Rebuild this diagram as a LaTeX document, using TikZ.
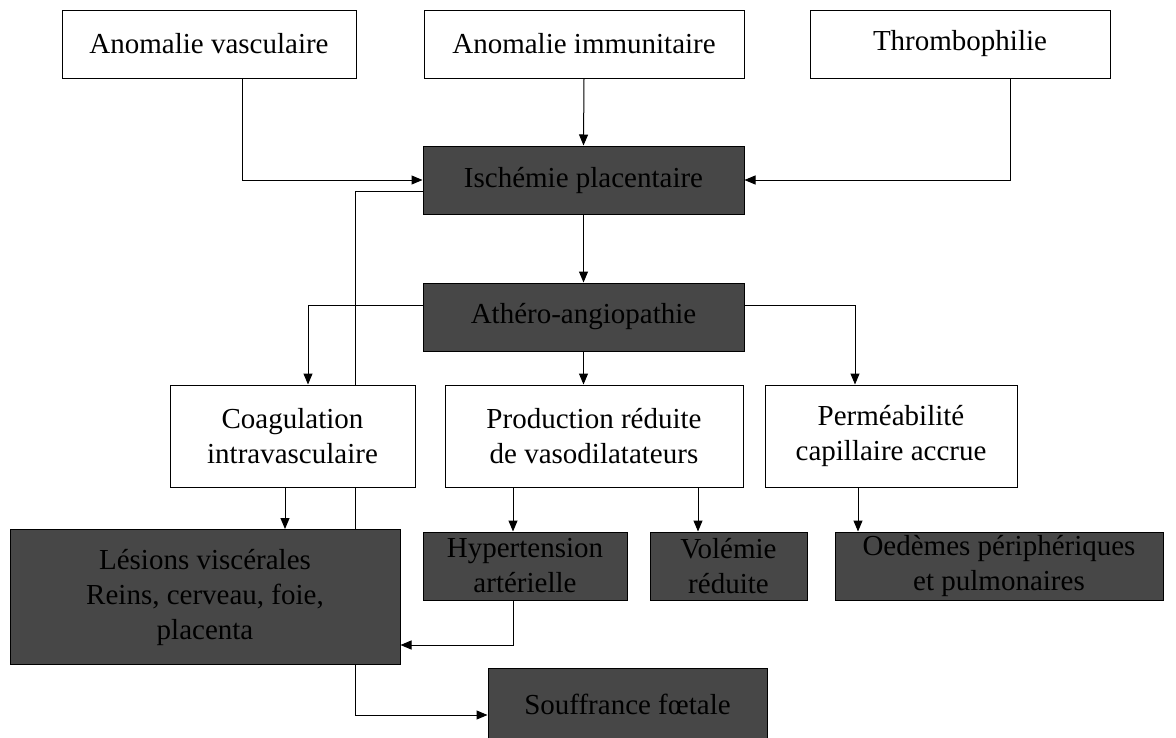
\documentclass[tikz,border=0pt]{standalone}
\usepackage{fontspec}
\setmainfont{Liberation Serif}
\usetikzlibrary{arrows.meta}
\begin{document}
\begin{tikzpicture}[x=1pt,y=-1pt,
  every node/.style={font=\fontsize{29}{35}\selectfont, align=center, inner sep=0pt},
  lightbox/.style={draw=black, line width=1pt, fill=white},
  darkbox/.style={draw=black, line width=1pt, fill=black!72, text=black},
  conn/.style={line width=1pt},
  arr/.style={conn, -{Triangle[length=11pt,width=9pt]}}]
\useasboundingbox (0,0) rectangle (1176,737);
% feedback line (behind boxes)
\coordinate (fbTop) at (355,191);
\coordinate (fbBot) at (355,530);
\draw[conn] (fbBot) -- (fbTop) -- (423,191);
% top row
\node[lightbox, minimum width=294pt, minimum height=68pt] (av) at (209,44) {Anomalie vasculaire};
\node[lightbox, minimum width=320pt, minimum height=68pt] (ai) at (584,44) {Anomalie immunitaire};
\node[lightbox, minimum width=300pt, minimum height=68pt] (th) at (960,44) {Thrombophilie};
% dark boxes
\node[darkbox, minimum width=321pt, minimum height=68pt] (isch) at (583.5,180) {Ischémie placentaire};
\node[darkbox, minimum width=321pt, minimum height=68pt] (athero) at (583.5,317) {Athéro-angiopathie};
% middle row
\node[lightbox, minimum width=245pt, minimum height=102pt] (coag) at (292.5,436) {Coagulation\\intravasculaire};
\node[lightbox, minimum width=298pt, minimum height=102pt] (prod) at (594,436) {Production réduite\\de vasodilatateurs};
\node[lightbox, minimum width=252pt, minimum height=102pt] (perm) at (891,436) {Perméabilité\\capillaire accrue};
% bottom row
\node[darkbox, minimum width=390pt, minimum height=135pt] (les) at (205,597) {Lésions viscérales\\Reins, cerveau, foie,\\placenta};
\node[darkbox, minimum width=204pt, minimum height=68pt] (hyp) at (525,566) {Hypertension\\artérielle};
\node[darkbox, minimum width=157pt, minimum height=68pt] (vol) at (728.5,566) {Volémie\\réduite};
\node[darkbox, minimum width=328pt, minimum height=68pt] (oed) at (999,566) {Oedèmes périphériques\\et pulmonaires};
\node[darkbox, minimum width=279pt, minimum height=72pt] (souf) at (627.5,704) {Souffrance fœtale};
% connectors
\draw[arr] (av.south -| 242,0) |- (isch.west |- 0,180);
\draw[arr] (ai.south) -- (isch.north);
\draw[arr] (th.south -| 1010,0) |- (isch.east |- 0,180);
\draw[arr] (isch.south) -- (athero.north);
\draw[arr] (athero.west |- 0,305) -| (coag.north -| 308,0);
\draw[arr] (athero.south) -- (prod.north -| athero.south);
\draw[arr] (athero.east |- 0,305) -| (perm.north -| 855,0);
\draw[arr] (coag.south -| 285,0) -- (les.north -| 285,0);
\draw[arr] (prod.south -| 513,0) -- (hyp.north -| 513,0);
\draw[arr] (prod.south -| 698,0) -- (vol.north -| 698,0);
\draw[arr] (perm.south -| 858,0) -- (oed.north -| 858,0);
\draw[arr] (hyp.south -| 513,0) |- (les.east |- 0,645);
\draw[arr] (les.south -| 355,0) |- (souf.west |- 0,715);
\end{tikzpicture}
\end{document}
